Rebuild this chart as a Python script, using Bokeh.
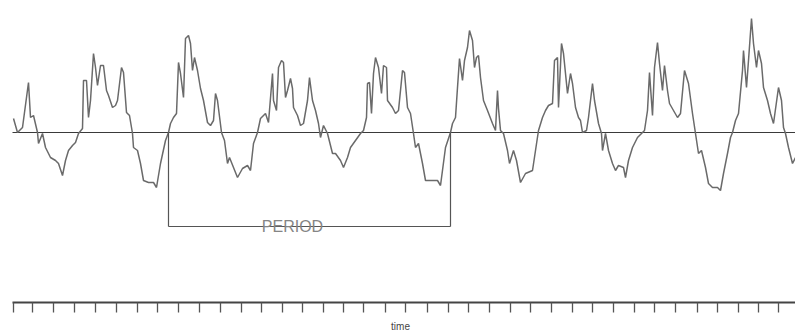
from bokeh.plotting import figure
from bokeh.models import Range1d
from bokeh.embed import file_html
from bokeh.resources import INLINE
from bokeh.core.properties import value

# ---- data (time in arbitrary units, signal relative to mean line) ----
time = [13, 17, 22, 28, 30, 33, 37, 38, 42, 45, 50, 55, 58, 62, 65, 68, 72, 75, 78, 82,
        83, 86, 88, 90, 93, 95, 97, 100, 103, 106, 108, 112, 115, 117, 121, 123, 126, 129, 132, 133,
        137, 140, 143, 148, 153, 156, 160, 165, 168, 170, 173, 176, 178, 180, 183, 185, 188, 190, 192, 194,
        197, 200, 203, 207, 210, 213, 215, 217, 221, 224, 227, 229, 233, 237, 242, 247, 250, 253, 257, 260,
        265, 268, 272, 273, 276, 278, 281, 283, 285, 287, 290, 292, 293, 297, 300, 303, 307, 309, 312, 315,
        318, 320, 323, 327, 332, 335, 340, 343, 347, 350, 355, 360, 363, 366, 367, 369, 371, 373, 375, 378,
        381, 383, 386, 387, 392, 395, 398, 402, 404, 407, 410, 413, 415, 418, 422, 425, 432, 437, 440, 445,
        450, 452, 455, 457, 459, 462, 464, 467, 469, 472, 474, 476, 478, 480, 483, 487, 492, 495, 497, 498,
        500, 503, 507, 509, 513, 516, 520, 525, 532, 535, 538, 542, 545, 548, 552, 554, 557, 558, 561, 563,
        567, 570, 572, 575, 578, 580, 582, 586, 588, 592, 594, 598, 601, 602, 605, 608, 612, 615, 618, 623,
        625, 628, 632, 637, 642, 644, 647, 649, 652, 654, 657, 659, 662, 664, 667, 669, 673, 677, 680, 684,
        688, 692, 695, 698, 701, 705, 708, 712, 717, 720, 723, 727, 730, 732, 735, 738, 742, 743, 746, 748,
        751, 753, 756, 758, 761, 763, 767, 770, 773, 778, 781, 783, 785, 788, 792, 795]
signal = [14, 0, 5, 50, 15, 17, 0, -11, -1, -15, -25, -28, -31, -43, -28, -18, -13, -10, -1, 4,
          52, 52, 15, 32, 79, 65, 47, 67, 67, 42, 37, 25, 27, 32, 65, 60, 20, 17, -1, -15,
          -18, -31, -48, -50, -50, -55, -31, -8, 0, 9, 15, 19, 70, 59, 35, 94, 97, 89, 62, 75,
          62, 44, 32, 10, 7, 12, 39, 32, 0, -8, -31, -25, -35, -45, -36, -33, -38, -11, 0, 14,
          19, 10, 59, 32, 22, 65, 72, 70, 35, 42, 54, 44, 25, 17, 7, 9, 32, 55, 32, 22,
          9, -5, 7, -1, -21, -21, -28, -35, -25, -15, -8, -1, 2, 15, 49, 50, 19, 59, 75, 65,
          39, 67, 65, 32, 25, 19, 22, 62, 60, 25, 19, -1, -15, -11, -31, -48, -48, -48, -53, -15,
          0, 9, 15, 45, 74, 52, 72, 85, 102, 92, 65, 75, 77, 55, 32, 22, 9, 2, 42, 24,
          2, -1, -18, -31, -18, -28, -50, -41, -38, -18, 2, 15, 22, 27, 29, 72, 75, 25, 89, 79,
          39, 59, 49, 25, 15, 12, 0, 2, 15, 49, 32, 9, -1, -18, -1, -18, -31, -38, -33, -35,
          -45, -28, -15, -5, 0, 2, 22, 60, 17, 65, 90, 69, 42, 67, 42, 29, 22, 15, 19, 62,
          49, 19, -1, -21, -18, -35, -51, -55, -55, -58, -41, -21, -5, 0, 12, 19, 62, 82, 45, 72,
          114, 89, 65, 82, 69, 45, 32, 19, 9, 45, 32, 5, -1, -15, -31, -25]

time_ticks = [13, 32, 53, 74, 95, 116, 137, 157, 178, 199, 220, 241, 261, 282, 302, 323, 343, 363, 385,
              405, 427, 448, 468, 489, 510, 530, 551, 572, 592, 613, 634, 654, 675, 697, 717, 738, 758, 778]
time_start = 12
time_end = 795

period_start = 168
period_end = 450
period_label = "PERIOD"
axis_title = "time"

# ---- layout / style constants ----
period_level = -94      # level of the period bracket (signal units)
period_label_x = 292
axis_level = -170       # level of the time axis line
tick_len = 10
axis_title_x = 400
axis_title_level = -194

p = figure(width=795, height=332, output_backend="svg", toolbar_location=None,
           x_range=Range1d(0, 795), y_range=Range1d(-200, 132),
           x_axis_location=None, y_axis_location=None,
           min_border_left=0, min_border_right=0, min_border_top=0, min_border_bottom=0)
p.grid.visible = False
p.outline_line_color = None
p.background_fill_color = "white"
p.border_fill_color = "white"

# mean line
p.segment(x0=[time_start], y0=[0], x1=[time_end], y1=[0], line_color="#3a3a3a", line_width=1.2)

# signal
p.line(time, signal, line_color="#6a6a6a", line_width=1.5)

# period bracket
p.segment(x0=[period_start, period_end, period_start],
          y0=[0, 0, period_level],
          x1=[period_start, period_end, period_end],
          y1=[period_level, period_level, period_level],
          line_color="#555555", line_width=1.2)
p.text(x=[period_label_x], y=[period_level], text=[period_label],
       text_font=value("Liberation Sans"), text_font_size="16px",
       text_color="#858585", text_align="center", text_baseline="alphabetic")

# time axis
p.segment(x0=[time_start], y0=[axis_level], x1=[time_end], y1=[axis_level],
          line_color="#444444", line_width=1.8)
p.segment(x0=time_ticks, y0=[axis_level] * len(time_ticks),
          x1=time_ticks, y1=[axis_level - tick_len] * len(time_ticks),
          line_color="#555555", line_width=1.3)
p.text(x=[axis_title_x], y=[axis_title_level], text=[axis_title],
       text_font=value("Liberation Sans"), text_font_size="10px",
       text_color="#444444", text_align="center", text_baseline="middle")

open("out.html", "w").write(file_html(p, INLINE))
